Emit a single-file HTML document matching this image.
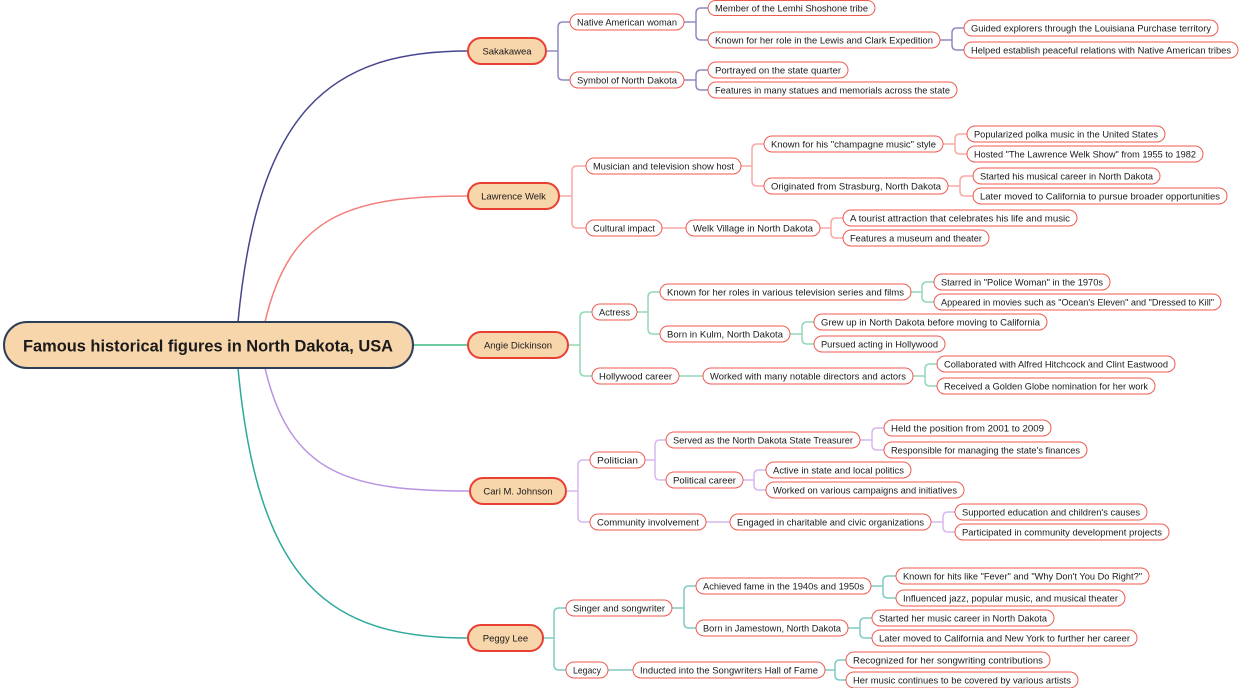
<!DOCTYPE html>
<html><head><meta charset="utf-8"><style>
html,body{margin:0;padding:0;background:#fff;width:1240px;height:688px;overflow:hidden}
svg{display:block}
text{font-family:"Liberation Sans",sans-serif;fill:#1a1a1a}
.n rect{fill:#fff;stroke:#ef5a4f;stroke-width:1}
.n text{font-size:9.5px;text-anchor:middle}
.l1 rect{fill:#f8d6ab;stroke:#ea3f33;stroke-width:2}
.l1 text{font-size:9.5px;text-anchor:middle}
path{fill:none;stroke-width:1.5}
</style></head><body>
<svg width="1240" height="688" viewBox="0 0 1240 688" xmlns="http://www.w3.org/2000/svg">
<path d="M238 322C258 110 330 51 468 51" stroke="#46468f" stroke-width="2"/>
<path d="M265 322C290 215 350 196 468 196" stroke="#f47f7a" stroke-width="2"/>
<path d="M413 345H468" stroke="#3db984" stroke-width="2"/>
<path d="M265 368C290 475 350 491 470 491" stroke="#bb92e2" stroke-width="2"/>
<path d="M238 368C258 585 330 638 468 638" stroke="#2ca99c" stroke-width="2"/>

<g stroke="#8c8cc2">
<path d="M546 51H558V27Q558 22 563 22H570M546 51H558V75Q558 80 563 80H570"/>
<path d="M684 22H696V13Q696 8 701 8H708M684 22H696V35Q696 40 701 40H708"/>
<path d="M940 40H952V33Q952 28 957 28H964M940 40H952V45Q952 50 957 50H964"/>
<path d="M684 80H696V75Q696 70 701 70H708M684 80H696V85Q696 90 701 90H708"/>
</g>
<g stroke="#f8aaa5">
<path d="M559 196H572V171Q572 166 577 166H586M559 196H572V223Q572 228 577 228H586"/>
<path d="M741 166H752V149Q752 144 757 144H764M741 166H752V181Q752 186 757 186H764"/>
<path d="M943 144H955V139Q955 134 960 134H967M943 144H955V149Q955 154 960 154H967"/>
<path d="M948 186H960V181Q960 176 965 176H973M948 186H960V191Q960 196 965 196H973"/>
<path d="M662 228H686"/>
<path d="M820 228H831V223Q831 218 836 218H843M820 228H831V233Q831 238 836 238H843"/>
</g>
<g stroke="#93d8b5">
<path d="M568 345H580V317Q580 312 585 312H592M568 345H580V371Q580 376 585 376H592"/>
<path d="M637 312H648V297Q648 292 653 292H660M637 312H648V329Q648 334 653 334H660"/>
<path d="M911 292H922V287Q922 282 927 282H934M911 292H922V297Q922 302 927 302H934"/>
<path d="M790 334H802V327Q802 322 807 322H814M790 334H802V339Q802 344 807 344H814"/>
<path d="M679 376H703"/>
<path d="M913 376H925V369Q925 364 930 364H937M913 376H925V381Q925 386 930 386H937"/>
</g>
<g stroke="#d6b9ef">
<path d="M566 491H578V465Q578 460 583 460H590M566 491H578V517Q578 522 583 522H590"/>
<path d="M645 460H655V445Q655 440 660 440H666M645 460H655V475Q655 480 660 480H666"/>
<path d="M860 440H872V433Q872 428 877 428H884M860 440H872V445Q872 450 877 450H884"/>
<path d="M743 480H754V475Q754 470 759 470H766M743 480H754V485Q754 490 759 490H766"/>
<path d="M706 522H730"/>
<path d="M931 522H943V517Q943 512 948 512H955M931 522H943V527Q943 532 948 532H955"/>
</g>
<g stroke="#80cbc2">
<path d="M543 638H554V613Q554 608 559 608H566M543 638H554V665Q554 670 559 670H566"/>
<path d="M672 608H684V591Q684 586 689 586H696M672 608H684V623Q684 628 689 628H696"/>
<path d="M871 586H883V581Q883 576 888 576H896M871 586H883V593Q883 598 888 598H896"/>
<path d="M848 628H860V623Q860 618 865 618H872M848 628H860V633Q860 638 865 638H872"/>
<path d="M608 670H633"/>
<path d="M825 670H835V665Q835 660 840 660H846M825 670H835V675Q835 680 840 680H846"/>
</g>

<rect x="4" y="322" width="409" height="46" rx="23" fill="#f8d6ab" stroke="#2d3e58" stroke-width="2"/>
<text x="208" y="351.5" font-size="17" font-weight="bold" text-anchor="middle" fill="#111" textLength="370" lengthAdjust="spacingAndGlyphs">Famous historical figures in North Dakota, USA</text>

<g class="l1">
<rect x="468" y="38" width="78" height="26" rx="13"/><text x="507" y="54.5">Sakakawea</text>
<rect x="468" y="183" width="91" height="26" rx="13"/><text x="513.5" y="199.5">Lawrence Welk</text>
<rect x="468" y="332" width="100" height="26" rx="13"/><text x="518" y="348.5">Angie Dickinson</text>
<rect x="470" y="478" width="96" height="26" rx="13"/><text x="518" y="494.5">Cari M. Johnson</text>
<rect x="468" y="625" width="75" height="26" rx="13"/><text x="505.5" y="641.5">Peggy Lee</text>
</g>

<g class="n">
<rect x="570" y="14" width="114" height="16" rx="8"/><text x="627" y="25.5" textLength="100" lengthAdjust="spacingAndGlyphs">Native American woman</text>
<rect x="570" y="72" width="114" height="16" rx="8"/><text x="627" y="83.5" textLength="100" lengthAdjust="spacingAndGlyphs">Symbol of North Dakota</text>
<rect x="708" y="0.5" width="167" height="15" rx="7.5"/><text x="791.5" y="11.5" textLength="153" lengthAdjust="spacingAndGlyphs">Member of the Lemhi Shoshone tribe</text>
<rect x="708" y="32" width="232" height="16" rx="8"/><text x="824" y="43.5" textLength="218" lengthAdjust="spacingAndGlyphs">Known for her role in the Lewis and Clark Expedition</text>
<rect x="708" y="62" width="140" height="16" rx="8"/><text x="778" y="73.5" textLength="126" lengthAdjust="spacingAndGlyphs">Portrayed on the state quarter</text>
<rect x="708" y="82" width="249" height="16" rx="8"/><text x="832.5" y="93.5" textLength="235" lengthAdjust="spacingAndGlyphs">Features in many statues and memorials across the state</text>
<rect x="964" y="20" width="254" height="16" rx="8"/><text x="1091" y="31.5" textLength="240" lengthAdjust="spacingAndGlyphs">Guided explorers through the Louisiana Purchase territory</text>
<rect x="964" y="42" width="274" height="16" rx="8"/><text x="1101" y="53.5" textLength="260" lengthAdjust="spacingAndGlyphs">Helped establish peaceful relations with Native American tribes</text>
<rect x="586" y="158" width="155" height="16" rx="8"/><text x="663.5" y="169.5" textLength="141" lengthAdjust="spacingAndGlyphs">Musician and television show host</text>
<rect x="586" y="220" width="76" height="16" rx="8"/><text x="624" y="231.5" textLength="62" lengthAdjust="spacingAndGlyphs">Cultural impact</text>
<rect x="764" y="136" width="179" height="16" rx="8"/><text x="853.5" y="147.5" textLength="165" lengthAdjust="spacingAndGlyphs">Known for his "champagne music" style</text>
<rect x="764" y="178" width="184" height="16" rx="8"/><text x="856" y="189.5" textLength="170" lengthAdjust="spacingAndGlyphs">Originated from Strasburg, North Dakota</text>
<rect x="686" y="220" width="134" height="16" rx="8"/><text x="753" y="231.5" textLength="120" lengthAdjust="spacingAndGlyphs">Welk Village in North Dakota</text>
<rect x="967" y="126" width="198" height="16" rx="8"/><text x="1066" y="137.5" textLength="184" lengthAdjust="spacingAndGlyphs">Popularized polka music in the United States</text>
<rect x="967" y="146" width="236" height="16" rx="8"/><text x="1085" y="157.5" textLength="222" lengthAdjust="spacingAndGlyphs">Hosted "The Lawrence Welk Show" from 1955 to 1982</text>
<rect x="973" y="168" width="187" height="16" rx="8"/><text x="1066.5" y="179.5" textLength="173" lengthAdjust="spacingAndGlyphs">Started his musical career in North Dakota</text>
<rect x="973" y="188" width="254" height="16" rx="8"/><text x="1100" y="199.5" textLength="240" lengthAdjust="spacingAndGlyphs">Later moved to California to pursue broader opportunities</text>
<rect x="843" y="210" width="234" height="16" rx="8"/><text x="960" y="221.5" textLength="220" lengthAdjust="spacingAndGlyphs">A tourist attraction that celebrates his life and music</text>
<rect x="843" y="230" width="146" height="16" rx="8"/><text x="916" y="241.5" textLength="132" lengthAdjust="spacingAndGlyphs">Features a museum and theater</text>
<rect x="592" y="304" width="45" height="16" rx="8"/><text x="614.5" y="315.5" textLength="31" lengthAdjust="spacingAndGlyphs">Actress</text>
<rect x="592" y="368" width="87" height="16" rx="8"/><text x="635.5" y="379.5" textLength="73" lengthAdjust="spacingAndGlyphs">Hollywood career</text>
<rect x="660" y="284" width="251" height="16" rx="8"/><text x="785.5" y="295.5" textLength="237" lengthAdjust="spacingAndGlyphs">Known for her roles in various television series and films</text>
<rect x="660" y="326" width="130" height="16" rx="8"/><text x="725" y="337.5" textLength="116" lengthAdjust="spacingAndGlyphs">Born in Kulm, North Dakota</text>
<rect x="703" y="368" width="210" height="16" rx="8"/><text x="808" y="379.5" textLength="196" lengthAdjust="spacingAndGlyphs">Worked with many notable directors and actors</text>
<rect x="934" y="274" width="176" height="16" rx="8"/><text x="1022" y="285.5" textLength="162" lengthAdjust="spacingAndGlyphs">Starred in "Police Woman" in the 1970s</text>
<rect x="934" y="294" width="287" height="16" rx="8"/><text x="1077.5" y="305.5" textLength="273" lengthAdjust="spacingAndGlyphs">Appeared in movies such as "Ocean's Eleven" and "Dressed to Kill"</text>
<rect x="814" y="314" width="233" height="16" rx="8"/><text x="930.5" y="325.5" textLength="219" lengthAdjust="spacingAndGlyphs">Grew up in North Dakota before moving to California</text>
<rect x="814" y="336" width="131" height="16" rx="8"/><text x="879.5" y="347.5" textLength="117" lengthAdjust="spacingAndGlyphs">Pursued acting in Hollywood</text>
<rect x="937" y="356" width="238" height="16" rx="8"/><text x="1056" y="367.5" textLength="224" lengthAdjust="spacingAndGlyphs">Collaborated with Alfred Hitchcock and Clint Eastwood</text>
<rect x="937" y="378" width="218" height="16" rx="8"/><text x="1046" y="389.5" textLength="204" lengthAdjust="spacingAndGlyphs">Received a Golden Globe nomination for her work</text>
<rect x="590" y="452" width="55" height="16" rx="8"/><text x="617.5" y="463.5" textLength="41" lengthAdjust="spacingAndGlyphs">Politician</text>
<rect x="590" y="514" width="116" height="16" rx="8"/><text x="648" y="525.5" textLength="102" lengthAdjust="spacingAndGlyphs">Community involvement</text>
<rect x="666" y="432" width="194" height="16" rx="8"/><text x="763" y="443.5" textLength="180" lengthAdjust="spacingAndGlyphs">Served as the North Dakota State Treasurer</text>
<rect x="666" y="472" width="77" height="16" rx="8"/><text x="704.5" y="483.5" textLength="63" lengthAdjust="spacingAndGlyphs">Political career</text>
<rect x="730" y="514" width="201" height="16" rx="8"/><text x="830.5" y="525.5" textLength="187" lengthAdjust="spacingAndGlyphs">Engaged in charitable and civic organizations</text>
<rect x="884" y="420" width="167" height="16" rx="8"/><text x="967.5" y="431.5" textLength="153" lengthAdjust="spacingAndGlyphs">Held the position from 2001 to 2009</text>
<rect x="884" y="442" width="203" height="16" rx="8"/><text x="985.5" y="453.5" textLength="189" lengthAdjust="spacingAndGlyphs">Responsible for managing the state's finances</text>
<rect x="766" y="462" width="145" height="16" rx="8"/><text x="838.5" y="473.5" textLength="131" lengthAdjust="spacingAndGlyphs">Active in state and local politics</text>
<rect x="766" y="482" width="198" height="16" rx="8"/><text x="865" y="493.5" textLength="184" lengthAdjust="spacingAndGlyphs">Worked on various campaigns and initiatives</text>
<rect x="955" y="504" width="192" height="16" rx="8"/><text x="1051" y="515.5" textLength="178" lengthAdjust="spacingAndGlyphs">Supported education and children's causes</text>
<rect x="955" y="524" width="214" height="16" rx="8"/><text x="1062" y="535.5" textLength="200" lengthAdjust="spacingAndGlyphs">Participated in community development projects</text>
<rect x="566" y="600" width="106" height="16" rx="8"/><text x="619" y="611.5" textLength="92" lengthAdjust="spacingAndGlyphs">Singer and songwriter</text>
<rect x="566" y="662" width="42" height="16" rx="8"/><text x="587" y="673.5" textLength="28" lengthAdjust="spacingAndGlyphs">Legacy</text>
<rect x="696" y="578" width="175" height="16" rx="8"/><text x="783.5" y="589.5" textLength="161" lengthAdjust="spacingAndGlyphs">Achieved fame in the 1940s and 1950s</text>
<rect x="696" y="620" width="152" height="16" rx="8"/><text x="772" y="631.5" textLength="138" lengthAdjust="spacingAndGlyphs">Born in Jamestown, North Dakota</text>
<rect x="633" y="662" width="192" height="16" rx="8"/><text x="729" y="673.5" textLength="178" lengthAdjust="spacingAndGlyphs">Inducted into the Songwriters Hall of Fame</text>
<rect x="896" y="568" width="253" height="16" rx="8"/><text x="1022.5" y="579.5" textLength="239" lengthAdjust="spacingAndGlyphs">Known for hits like "Fever" and "Why Don't You Do Right?"</text>
<rect x="896" y="590" width="229" height="16" rx="8"/><text x="1010.5" y="601.5" textLength="215" lengthAdjust="spacingAndGlyphs">Influenced jazz, popular music, and musical theater</text>
<rect x="872" y="610" width="182" height="16" rx="8"/><text x="963" y="621.5" textLength="168" lengthAdjust="spacingAndGlyphs">Started her music career in North Dakota</text>
<rect x="872" y="630" width="265" height="16" rx="8"/><text x="1004.5" y="641.5" textLength="251" lengthAdjust="spacingAndGlyphs">Later moved to California and New York to further her career</text>
<rect x="846" y="652" width="204" height="16" rx="8"/><text x="948" y="663.5" textLength="190" lengthAdjust="spacingAndGlyphs">Recognized for her songwriting contributions</text>
<rect x="846" y="672" width="232" height="16" rx="8"/><text x="962" y="683.5" textLength="218" lengthAdjust="spacingAndGlyphs">Her music continues to be covered by various artists</text>
</g>
</svg>
</body></html>
